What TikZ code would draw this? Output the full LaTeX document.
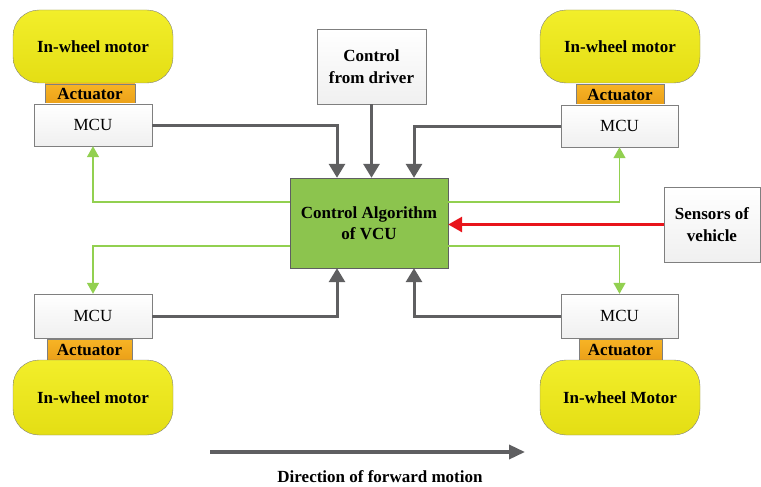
\documentclass[tikz,border=0pt]{standalone}
\usepackage{fontspec}
\setmainfont{Liberation Serif}
\usetikzlibrary{positioning,arrows.meta}
\definecolor{motortop}{HTML}{F2EE2A}
\definecolor{motorbot}{HTML}{E4DE14}
\definecolor{acttop}{HTML}{F7B425}
\definecolor{actbot}{HTML}{EBA018}
\definecolor{vcugreen}{HTML}{8CC44E}
\definecolor{sigline}{HTML}{92D050}
\definecolor{busgray}{HTML}{5F5F61}
\definecolor{edgegray}{HTML}{7F7F7F}
\definecolor{sensred}{HTML}{E8141B}
\tikzset{
    motor/.style = {
        draw=edgegray,
        rounded corners=26pt,
        top color=motortop,
        bottom color=motorbot,
        minimum width=160pt,
        minimum height=73pt,
        inner sep=0pt,
        font=\fontsize{17}{19}\selectfont\bfseries
    },
    act/.style = {
        draw=edgegray,
        top color=acttop,
        bottom color=actbot,
        minimum height=20pt,
        inner sep=0pt,
        font=\fontsize{17}{19}\selectfont\bfseries
    },
    mcu/.style = {
        draw=edgegray,
        top color=white,
        bottom color=gray!12,
        minimum width=118pt,
        minimum height=42pt,
        inner sep=0pt,
        font=\fontsize{17}{19}\selectfont
    },
    info/.style = {
        draw=edgegray,
        top color=white,
        bottom color=gray!12,
        align=center,
        inner sep=0pt,
        font=\fontsize{17}{21.5}\selectfont\bfseries
    },
    bus/.style = {
        draw=busgray,
        line width=3pt,
        -{Triangle[length=14pt,width=16pt]}
    },
    sig/.style = {
        draw=sigline,
        line width=1.5pt,
        -{Triangle[length=11pt,width=12pt]}
    },
}

\begin{document}
\begin{tikzpicture}[x=1pt, y=-1pt]
            \useasboundingbox (0,0) rectangle (761,487);

            \node[motor] (motorTL) at (93,46.5) {In-wheel motor};
            \node[act, minimum width=90pt] (actTL) at (90,94) {Actuator};
            \node[mcu] (mcuTL) at (93,125) {MCU};

            \node[motor] (motorTR) at (620,46.5) {In-wheel motor};
            \node[act, minimum width=88pt] (actTR) at (620,94.5) {Actuator};
            \node[mcu, minimum width=117pt] (mcuTR) at (619.5,126) {MCU};

            \node[mcu, minimum height=44pt] (mcuBL) at (93,316) {MCU};
            \node[act, minimum width=85pt, minimum height=21pt] (actBL) at (89.5,349.5) {Actuator};
            \node[motor, minimum height=75pt] (motorBL) at (93,397.5) {In-wheel motor};

            \node[mcu, minimum width=117pt, minimum height=44pt] (mcuBR) at (619.5,316) {MCU};
            \node[act, minimum width=83pt, minimum height=21pt] (actBR) at (620.5,349.5) {Actuator};
            \node[motor, minimum height=75pt] (motorBR) at (620,397.5) {In-wheel Motor};

            \node[info, minimum width=109pt, minimum height=75pt] (driver) at (371.5,66.5) {Control\\from driver};
            \node[info, draw=busgray, fill=vcugreen, top color=vcugreen, bottom color=vcugreen,
                minimum width=158pt, minimum height=90pt] (vcu) at (369,223) {Control Algorithm\\of VCU};
            \node[info, minimum width=96pt, minimum height=75pt] (sensors) at (712,224.5) {Sensors of\\vehicle};

            % MCU feedback to VCU
            \path[bus] (mcuTL) -| ([xshift=-32pt]vcu.north);
            \path[bus] (driver) -- (driver |- vcu.north);
            \path[bus] (mcuTR) -| ([xshift=45pt]vcu.north);
            \path[bus] (mcuBL) -| ([xshift=-32pt]vcu.south);
            \path[bus] (mcuBR) -| ([xshift=45pt]vcu.south);

            % VCU commands to MCU
            \path[sig] ([yshift=21pt]vcu.west) -| (mcuTL);
            \path[sig] ([yshift=21pt]vcu.east) -| (mcuTR);
            \path[sig] ([yshift=-23pt]vcu.west) -| (mcuBL);
            \path[sig] ([yshift=-23pt]vcu.east) -| (mcuBR);

            % sensors
            \path[draw=sensred, line width=3pt, -{Triangle[length=14pt,width=15pt]}]
                (sensors.west) -- (sensors.west -| vcu.east);

            % direction
            \coordinate (dirL) at (210,452);
            \coordinate (dirR) at (525,452);
            \path[draw=busgray, line width=3.5pt, -{Triangle[length=16pt,width=14pt]}] (dirL) -- (dirR);
            \node[font=\fontsize{17}{19}\selectfont\bfseries] (dir) at (380,477) {Direction of forward motion};
        \end{tikzpicture}
\end{document}
